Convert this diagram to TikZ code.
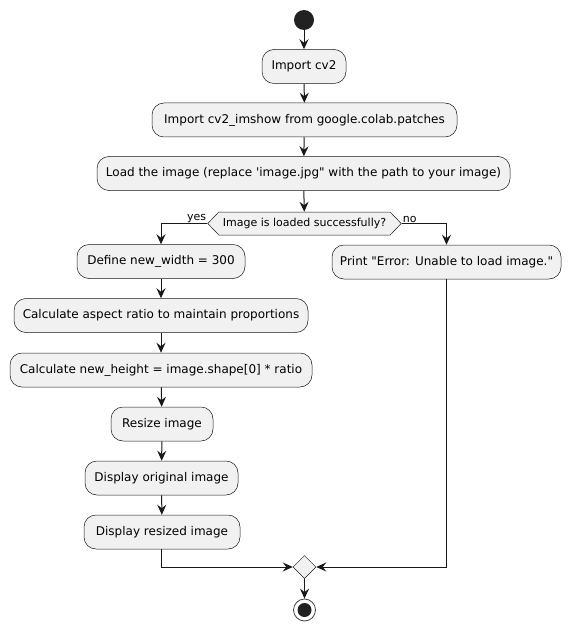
\documentclass[tikz,border=0pt]{standalone}
\usepackage{fontspec}
\newfontfamily\plainfont{DejaVu Sans}
\usetikzlibrary{arrows.meta,shapes.symbols,shapes.geometric}
\definecolor{boxfill}{HTML}{F1F1F1}
\definecolor{ink}{HTML}{181818}
\definecolor{dot}{HTML}{222222}
\begin{document}
\begin{tikzpicture}[x=1pt,y=-1pt,
  act/.style={draw=ink, line width=0.5pt, fill=boxfill, rounded corners=12pt,
    minimum height=34pt, inner sep=0pt, font=\plainfont\fontsize{12}{14}\selectfont},
  decis/.style={draw=ink, line width=0.5pt, fill=boxfill, shape=signal,
    signal to=west and east, signal pointer angle=92, minimum height=23pt,
    inner xsep=4pt, inner ysep=0pt, font=\plainfont\fontsize{11}{13}\selectfont},
  merge/.style={draw=ink, line width=0.5pt, fill=boxfill, diamond,
    minimum width=23pt, minimum height=23pt, inner sep=0pt},
  flow/.style={draw=ink, line width=1pt, -{Stealth[length=10pt,width=9pt,inset=3.5pt]}},
  lbl/.style={font=\plainfont\fontsize{11}{13}\selectfont, inner sep=1pt}]
\useasboundingbox (0,0) rectangle (571,631);
\fill[white] (0,0) rectangle (571,631);

\node[circle, fill=dot, minimum size=20pt, inner sep=0pt] (start) at (304,20) {};
\node[act, minimum width=84pt] (a1) at (304,66.5) {Import cv2};
\node[act, minimum width=305pt] (a2) at (304.5,120) {Import cv2\_imshow from google.colab.patches};
\node[act, minimum width=413pt] (a3) at (303.5,173.5) {Load the image (replace 'image.jpg" with the path to your image)};
\node[decis] (dec) at (304.5,223.5) {Image is loaded successfully?};

\node[act, minimum width=168pt] (d1) at (161,261.5) {Define new\_width = 300};
\node[act, minimum width=229pt] (p) at (446.5,262) {Print "Error: Unable to load image."};
\node[act, minimum width=294pt] (c1) at (161,315.5) {Calculate aspect ratio to maintain proportions};
\node[act, minimum width=302pt] (c2) at (161,370) {Calculate new\_height = image.shape[0] * ratio};
\node[act, minimum width=102pt] (r) at (162,424) {Resize image};
\node[act, minimum width=153pt] (o) at (161.5,478) {Display original image};
\node[act, minimum width=156pt] (s) at (162,532) {Display resized image};

\node[merge] (m) at (304.5,567) {};
\node[circle, draw=ink!80, line width=0.8pt, fill=white, minimum size=22pt, inner sep=0pt] (end) at (304.5,610) {};
\node[circle, fill=dot, minimum size=14pt, inner sep=0pt] (endin) at (end.center) {};

\draw[flow] (start) -- (a1);
\draw[flow] (a1) -- (a2);
\draw[flow] (a2) -- (a3);
\draw[flow] (a3) -- (dec);
\draw[flow] (dec.west) -| (d1.north);
\draw[flow] (dec.east) -| (p.north);
\node[lbl, anchor=south east] (yes) at (dec.west) {yes};
\node[lbl, anchor=south west] (no) at (dec.east) {no};
\draw[flow] (d1) -- (c1);
\draw[flow] (c1) -- (c2);
\draw[flow] (c2) -- (r);
\draw[flow] (r) -- (o);
\draw[flow] (o) -- (s);
\draw[flow] (s.south -| 161,0) |- (m.west);
\draw[flow] (p.south) |- (m.east);
\draw[flow] (m) -- (end);
\end{tikzpicture}
\end{document}
